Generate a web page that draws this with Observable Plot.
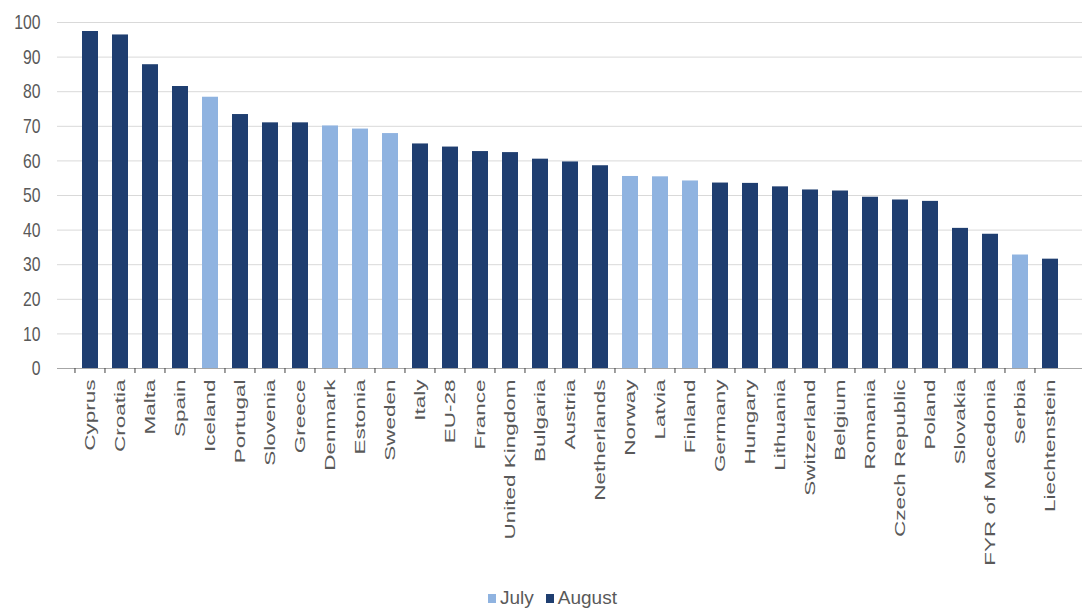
<!DOCTYPE html>
<html>
<head>
<meta charset="utf-8">
<script src="https://cdn.jsdelivr.net/npm/d3@7"></script>
<script src="https://cdn.jsdelivr.net/npm/@observablehq/plot@0.6"></script>
<style>
  html, body { margin: 0; padding: 0; background: #fff; }
  body { width: 1082px; height: 612px; position: relative; overflow: hidden; font-family: "Liberation Sans", Arial, sans-serif; }
  #legend { position: absolute; left: 488px; top: 587px; display: flex; align-items: center; font-size: 19px; color: #595959; }
  #legend .item { display: flex; align-items: center; margin-right: 12px; }
  #legend .sw { width: 8px; height: 9px; display: inline-block; margin-right: 4px; }
</style>
</head>
<body>
<div id="chart"></div>
<div id="legend"></div>
<script>
const countries = ["Cyprus","Croatia","Malta","Spain","Iceland","Portugal","Slovenia","Greece","Denmark","Estonia","Sweden","Italy","EU-28","France","United Kingdom","Bulgaria","Austria","Netherlands","Norway","Latvia","Finland","Germany","Hungary","Lithuania","Switzerland","Belgium","Romania","Czech Republic","Poland","Slovakia","FYR of Macedonia","Serbia","Liechtenstein"];
const values = [97.4,96.4,87.8,81.5,78.4,73.4,71.0,71.0,70.1,69.2,67.9,64.9,64.0,62.7,62.4,60.5,59.7,58.6,55.5,55.4,54.2,53.6,53.5,52.5,51.6,51.3,49.5,48.7,48.3,40.5,38.8,32.8,31.6];
const months = ["August","August","August","August","July","August","August","August","July","July","July","August","August","August","August","August","August","August","July","July","July","August","August","August","August","August","August","August","August","August","August","July","August"];
const seriesNames = ["July","August"];
const seriesColors = ["#8fb3e0","#1f3e70"];
const yTicks = [0,10,20,30,40,50,60,70,80,90,100];

const data = countries.map((c, i) => ({country: c, value: values[i], month: months[i]}));

const W = 1082, H = 580, ML = 57, MR = 0;
const step = (W - ML - MR) / countries.length;

const plot = Plot.plot({
  width: W,
  height: H,
  marginTop: 22,
  marginBottom: 212,
  marginLeft: ML,
  marginRight: MR,
  style: {fontFamily: "'Liberation Sans', Arial, sans-serif", color: "#595959", background: "#fff"},
  x: {domain: countries, padding: 0.48, label: null},
  y: {domain: [0, 100], label: null},
  color: {domain: seriesNames, range: seriesColors},
  marks: [
    Plot.gridY(yTicks, {stroke: "#d9d9d9", strokeOpacity: 1}),
    Plot.barY(data, {x: "country", y: "value", fill: "month"}),
    Plot.ruleY([0], {stroke: "#a6a6a6"}),
    Plot.axisY({ticks: yTicks, tickSize: 0, tickPadding: 17, fontSize: 15, fill: "#595959"}),
    Plot.axisX({tickSize: 5, tickFormat: () => "", dx: -step / 2, stroke: "#404040"}),
    Plot.axisX({tickSize: 0, tickPadding: 11, tickRotate: -90, fontSize: 15, fill: "#595959"})
  ]
});
document.getElementById("chart").appendChild(plot);

// Stretch glyphs vertically as in the reference picture
function stretch(sel, sx, sy) {
  d3.select(plot).selectAll(sel).each(function() {
    const t = this.getAttribute("transform");
    if (t && t.includes("translate")) {
      this.setAttribute("transform", t + ` scale(${sx},${sy})`);
    } else {
      const x = +this.getAttribute("x") || 0, y = +this.getAttribute("y") || 0;
      this.setAttribute("x", 0); this.setAttribute("y", 0);
      this.setAttribute("transform", `translate(${x},${y}) scale(${sx},${sy})` + (t ? " " + t : ""));
    }
  });
}
stretch("g[aria-label='x-axis tick label'] text", 1.5, 1);
stretch("g[aria-label='y-axis tick label'] text", 1.05, 1.4);

const legend = document.getElementById("legend");
seriesNames.forEach((name, i) => {
  const item = document.createElement("span");
  item.className = "item";
  const sw = document.createElement("span");
  sw.className = "sw";
  sw.style.background = seriesColors[i];
  item.appendChild(sw);
  item.appendChild(document.createTextNode(name));
  legend.appendChild(item);
});
</script>
</body>
</html>
